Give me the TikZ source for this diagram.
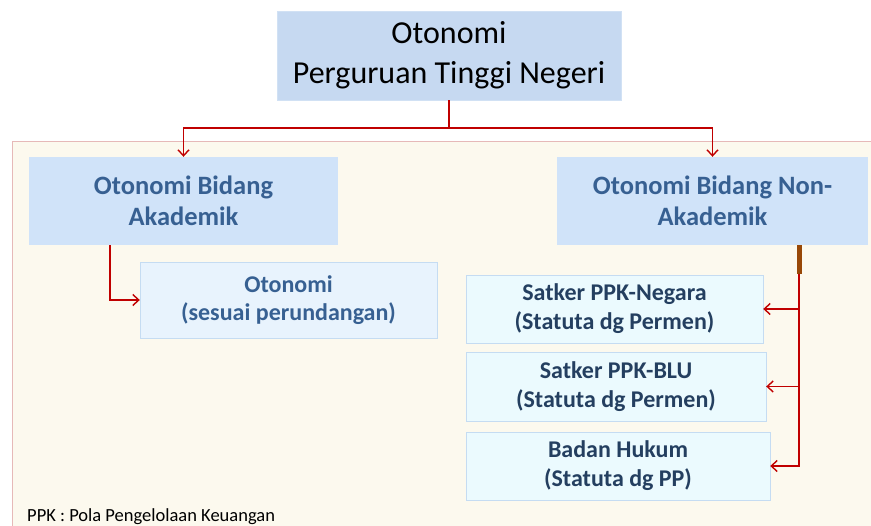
\documentclass[tikz,border=0pt]{standalone}
\usepackage{fontspec}
\setmainfont{Carlito}
\usetikzlibrary{arrows.meta}
\definecolor{panelfill}{HTML}{FCF9EE}
\definecolor{panelline}{HTML}{E6B9B8}
\definecolor{topfill}{HTML}{C6D9F1}
\definecolor{headfill}{HTML}{D0E3F9}
\definecolor{headtext}{HTML}{376092}
\definecolor{subfill}{HTML}{E8F3FD}
\definecolor{leaffill}{HTML}{EBFAFE}
\definecolor{boxline}{HTML}{C5DCF2}
\definecolor{leaftext}{HTML}{243F60}
\definecolor{linkred}{HTML}{C00000}
\definecolor{stembrown}{HTML}{984807}
\tikzset{
  topbox/.style={fill=topfill,draw=topfill!80!white,align=center,inner sep=0pt,
    font=\fontsize{32}{40}\selectfont},
  headbox/.style={fill=headfill,align=center,inner sep=0pt,text=headtext,
    font=\fontsize{26.5}{31}\selectfont\bfseries},
  subbox/.style={fill=subfill,draw=boxline,align=center,inner sep=0pt,text=headtext,
    font=\fontsize{24}{28}\selectfont\bfseries},
  leafbox/.style={fill=leaffill,draw=boxline,align=center,inner sep=0pt,text=leaftext,
    font=\fontsize{24}{29}\selectfont\bfseries},
  link/.style={draw=linkred,line width=1.4pt,-{Straight Barb[length=6pt,width=11pt]}},
}
\begin{document}
\begin{tikzpicture}[x=1pt,y=-1pt]
\useasboundingbox (0,0) rectangle (871,526);
% background panel
\fill[white] (0,0) rectangle (871,526);
\draw[panelline,fill=panelfill] (12,141) rectangle (880,540);
% boxes
\node[topbox,minimum width=344pt,minimum height=89pt] (ptn) at (449,55.5) {Otonomi\\Perguruan Tinggi Negeri};
\node[headbox,minimum width=309pt,minimum height=88pt] (akad) at (183.5,201) {Otonomi Bidang\\Akademik};
\node[headbox,minimum width=311pt,minimum height=88pt] (nonakad) at (712.5,201) {Otonomi Bidang Non-\\Akademik};
\node[subbox,minimum width=297pt,minimum height=76pt] (otonomi) at (288.5,300) {Otonomi\\(sesuai perundangan)};
\node[leafbox,minimum width=297pt,minimum height=68pt] (negara) at (614.5,309) {Satker PPK-Negara\\(Statuta dg Permen)};
\node[leafbox,minimum width=300pt,minimum height=69pt] (blu) at (616,386.5) {Satker PPK-BLU\\(Statuta dg Permen)};
\node[leafbox,minimum width=304pt,minimum height=68pt] (hukum) at (618,466) {Badan Hukum\\(Statuta dg PP)};
\node[anchor=base west,inner sep=0pt,font=\fontsize{18.5}{20}\selectfont] (note) at (27,522) {PPK : Pola Pengelolaan Keuangan};
% connectors
\coordinate (split) at (449,128);
\coordinate (stem) at (799,274);
\draw[link] (ptn.south) -- (split) -| (akad.north);
\draw[link] (split) -| (nonakad.north);
\draw[link] (akad.south -| 110,0) |- (otonomi.west);
\draw[stembrown,line width=5pt] (nonakad.south -| stem) -- (stem);
\draw[link] (stem) |- (negara.east);
\draw[link] (stem) |- (blu.east);
\draw[link] (stem) |- (hukum.east);
\end{tikzpicture}
\end{document}
